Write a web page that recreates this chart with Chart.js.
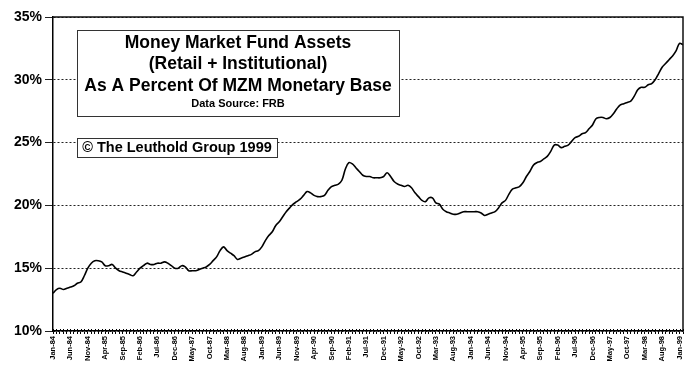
<!DOCTYPE html>
<html>
<head>
<meta charset="utf-8">
<script src="https://cdn.jsdelivr.net/npm/chart.js@4.4.1/dist/chart.umd.min.js"></script>
<style>
  body { margin: 0; background: #fff; }
  #mmfChart { display: block; }
</style>
</head>
<body>
<canvas id="mmfChart" width="695" height="374"></canvas>
<script>
  // monthly categories, Jan-84 .. Feb-99
  var monthNames = ['Jan', 'Feb', 'Mar', 'Apr', 'May', 'Jun', 'Jul', 'Aug', 'Sep', 'Oct', 'Nov', 'Dec'];
  var years = ['84', '85', '86', '87', '88', '89', '90', '91', '92', '93', '94', '95', '96', '97', '98', '99'];
  var months = [];
  years.forEach(function (y) {
    monthNames.forEach(function (m) { months.push(m + '-' + y) });
  });
  months = months.slice(0, 182);

  // money market fund assets as % of MZM
  var mmfPct = [
    13.0, 13.3, 13.4, 13.3, 13.4, 13.5, 13.6, 13.8, 13.9, 14.4, 15.0, 15.4,
    15.6, 15.6, 15.5, 15.2, 15.2, 15.3, 15.0, 14.8, 14.7, 14.6, 14.5, 14.4,
    14.7, 15.0, 15.2, 15.4, 15.3, 15.3, 15.4, 15.4, 15.5, 15.4, 15.2, 15.0,
    15.0, 15.2, 15.1, 14.8, 14.8, 14.8, 14.9, 15.0, 15.1, 15.3, 15.6, 15.9,
    16.4, 16.7, 16.4, 16.2, 16.0, 15.7, 15.8, 15.9, 16.0, 16.1, 16.3, 16.4,
    16.7, 17.2, 17.6, 17.9, 18.4, 18.7, 19.1, 19.5, 19.8, 20.1, 20.3, 20.5,
    20.8, 21.1, 21.0, 20.8, 20.7, 20.7, 20.8, 21.2, 21.5, 21.6, 21.7, 22.0,
    22.9, 23.4, 23.3, 23.0, 22.7, 22.4, 22.3, 22.3, 22.2, 22.2, 22.2, 22.3,
    22.6, 22.3, 21.9, 21.7, 21.6, 21.5, 21.6, 21.4, 21.0, 20.7, 20.4, 20.3,
    20.6, 20.6, 20.2, 20.1, 19.7, 19.5, 19.4, 19.3, 19.3, 19.4, 19.5, 19.5,
    19.5, 19.5, 19.5, 19.4, 19.2, 19.3, 19.4, 19.5, 19.8, 20.2, 20.4, 20.9,
    21.3, 21.4, 21.5, 21.8, 22.3, 22.7, 23.2, 23.4, 23.5, 23.7, 23.9, 24.3,
    24.8, 24.8, 24.6, 24.7, 24.8, 25.1, 25.4, 25.5, 25.7, 25.8, 26.1, 26.4,
    26.9, 27.0, 27.0, 26.9, 27.0, 27.3, 27.7, 28.0, 28.1, 28.2, 28.3, 28.7,
    29.2, 29.4, 29.4, 29.6, 29.7, 30.0, 30.5, 31.0, 31.3, 31.6, 31.9, 32.3,
    32.9, 32.8
  ];

  var yTicks = [10, 15, 20, 25, 30, 35];
  var titleLines = ['Money Market Fund Assets', '(Retail + Institutional)', 'As A Percent Of MZM Monetary Base'];
  var sourceText = 'Data Source: FRB';
  var copyText = '\u00A9 The Leuthold Group 1999';

  var FONT = '"Liberation Sans", Arial, sans-serif';

  var frameAndBoxes = {
    id: 'frameAndBoxes',
    beforeDraw: function (chart) {
      var c = chart.ctx;
      c.save();
      c.fillStyle = '#fff';
      c.fillRect(0, 0, chart.width, chart.height);
      c.restore();
    },
    afterDraw: function (chart) {
      var c = chart.ctx;
      var a = chart.chartArea;
      var xs = chart.scales.x;
      c.save();
      // top + right frame
      c.strokeStyle = '#111';
      c.lineWidth = 1.5;
      c.beginPath();
      c.moveTo(a.left, a.top);
      c.lineTo(a.right, a.top);
      c.lineTo(a.right, a.bottom);
      c.stroke();

      // little month marks crossing the axis
      c.strokeStyle = '#000';
      c.lineWidth = 1;
      c.beginPath();
      for (var i = 0; i < months.length; i++) {
        var px = Math.round(xs.getPixelForTick(i)) + 0.5;
        c.moveTo(px, a.bottom - 2);
        c.lineTo(px, a.bottom);
      }
      c.stroke();

      // title box
      c.fillStyle = '#fff';
      c.fillRect(77, 30, 322, 86);
      c.strokeStyle = '#333';
      c.lineWidth = 1;
      c.strokeRect(77.5, 30.5, 322, 86);
      c.fillStyle = '#000';
      c.textAlign = 'center';
      c.textBaseline = 'middle';
      c.font = 'bold 17.5px ' + FONT;
      c.fillText(titleLines[0], 238, 43);
      c.fillText(titleLines[1], 238, 64);
      c.fillText(titleLines[2], 238, 86);
      c.font = 'bold 11px ' + FONT;
      c.fillText(sourceText, 238, 104);

      // copyright box
      c.fillStyle = '#fff';
      c.fillRect(77, 138, 200, 19);
      c.strokeRect(77.5, 138.5, 200, 19);
      c.fillStyle = '#000';
      c.font = 'bold 14.5px ' + FONT;
      c.fillText(copyText, 177, 148);
      c.restore();
    }
  };

  var ctx = document.getElementById('mmfChart').getContext('2d');
  window.mmfChart = new Chart(ctx, {
    type: 'line',
    data: {
      labels: months,
      datasets: [{
        data: mmfPct,
        borderColor: '#000',
        borderWidth: 1.6,
        pointRadius: 0,
        tension: 0.35,
        fill: false
      }]
    },
    options: {
      responsive: false,
      animation: false,
      layout: { padding: { top: 17, right: 12, left: 0, bottom: 0 } },
      plugins: { legend: { display: false }, tooltip: { enabled: false } },
      scales: {
        x: {
          afterFit: function (s) { s.height = 43 },
          grid: { drawOnChartArea: false, drawTicks: true, tickLength: 3, color: '#000', lineWidth: 1 },
          border: { display: true, color: '#000', width: 1.5 },
          ticks: {
            autoSkip: false,
            maxRotation: 90,
            minRotation: 90,
            padding: 2,
            color: '#000',
            font: { family: FONT, size: 7.5, weight: 'bold' },
            callback: function (v, i) { return i % 5 === 0 ? months[i] : '' }
          }
        },
        y: {
          min: 10,
          max: 35,
          afterFit: function (s) { s.width = 53 },
          afterBuildTicks: function (s) { s.ticks = yTicks.map(function (v) { return { value: v } }) },
          grid: { color: '#222', lineWidth: 1, tickLength: 8 },
          border: { display: true, color: '#000', width: 1.5, dash: [2, 2] },
          ticks: {
            padding: 3,
            color: '#000',
            font: { family: FONT, size: 14, weight: 'bold' },
            callback: function (v) { return v + '%' }
          }
        }
      }
    },
    plugins: [frameAndBoxes]
  });
</script>
</body>
</html>
